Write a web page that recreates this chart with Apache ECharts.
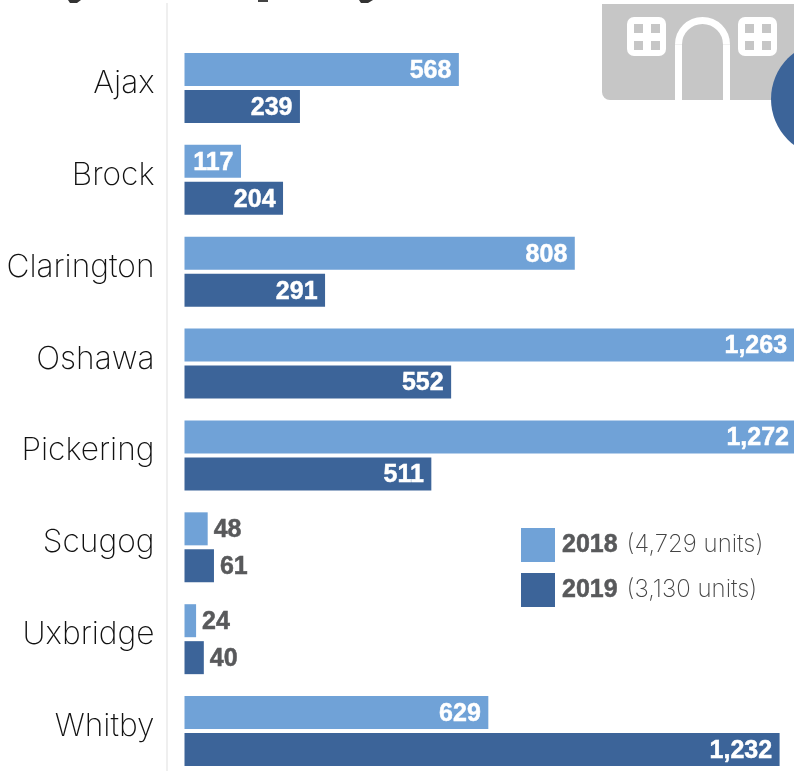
<!DOCTYPE html>
<html><head><meta charset="utf-8">
<style>html,body{margin:0;padding:0;background:#fff}#c{width:794px;height:771px}</style>
<script src="https://cdn.jsdelivr.net/npm/echarts@6/dist/echarts.min.js"></script>
</head><body><div id="c"></div>
<script>
const categories = ['Ajax','Brock','Clarington','Oshawa','Pickering','Scugog','Uxbridge','Whitby'];
const values2018 = [568,117,808,1263,1272,48,24,629];
const values2019 = [239,204,291,552,511,61,40,1232];
const seriesNames = ['2018','2019'];
const totals = {'2018':'4,729','2019':'3,130'};
const colors = ['#70a2d7','#3c6499'];

const chart = echarts.init(document.getElementById('c'), null, {renderer:'canvas'});
const fmt = p => p.value.toLocaleString('en-US');
const mkData = vals => vals.map(v => ({
  value: v,
  label: v < 100
    ? {position:'right', distance:6, color:'#58595b', textBorderColor:'#58595b'}
    : {position:'insideRight', distance:7.5, color:'#fff', textBorderColor:'#fff'}
}));
const mkSeries = (name, vals, color) => ({
  name, type:'bar', data: mkData(vals), barWidth:33, barGap:'12%',
  itemStyle:{color},
  label:{show:true, formatter:fmt, fontFamily:'Liberation Sans', fontWeight:'bold', fontSize:25, textBorderWidth:0.5, offset:[0,1.5]},
  silent:true, animation:false
});
chart.setOption({
  animation:false,
  grid:{left:184.5, top:42, width:612, height:735, outerBoundsMode:'none', containLabel:false},
  xAxis:{type:'value', min:0, max:1267, show:false},
  yAxis:{type:'category', inverse:true, data:categories, offset:30,
    axisLine:{show:false}, axisTick:{show:false},
    axisLabel:{align:'right', margin:0, formatter:v => `{c|${v}}`,
      rich:{c:{fontFamily:'Inter', fontWeight:200, fontSize:31.7, color:'#111', padding:[0,0,9,0]}}}},
  legend:{
    left:521, top:528, orient:'vertical', padding:0, itemWidth:34, itemHeight:34, itemGap:11,
    icon:'rect', selectedMode:false,
    data:seriesNames,
    formatter:n => `{b|${n}}{l|(${totals[n]} units)}`,
    textStyle:{rich:{
      b:{fontFamily:'Liberation Sans',fontWeight:'bold',fontSize:25,color:'#58595b',padding:[0,9,0,2],textBorderColor:'#58595b',textBorderWidth:0.5},
      l:{fontFamily:'Inter',fontWeight:200,fontSize:24,color:'#444'}
    }}
  },
  series:[mkSeries(seriesNames[0],values2018,colors[0]), mkSeries(seriesNames[1],values2019,colors[1])],
  graphic:[
    {type:'rect',silent:true,z:0,shape:{x:166,y:3,width:2,height:768},style:{fill:'#efefef'}},
    {type:'polygon',silent:true,z:1,shape:{points:[[68,0],[81,0],[77,3],[70,3]]},style:{fill:'#333'}},
    {type:'rect',silent:true,z:1,shape:{x:258,y:0,width:10,height:2},style:{fill:'#444'}},
    {type:'polygon',silent:true,z:1,shape:{points:[[359,0],[373,0],[368,3],[361,3]]},style:{fill:'#333'}},
    {type:'rect',silent:true,z:1,shape:{x:602,y:4,width:230,height:96,r:[0,0,0,8]},style:{fill:'#c6c6c6'}},
    {type:'rect',silent:true,z:2,shape:{x:627,y:17,width:39,height:39,r:7},style:{fill:'#fff'}},
    {type:'rect',silent:true,z:2,shape:{x:738,y:17,width:39,height:39,r:7},style:{fill:'#fff'}},
    ...[[634,24],[651,24],[634,41],[651,41],[745,24],[762,24],[745,41],[762,41]].map(([x,y])=>(
      {type:'rect',silent:true,z:3,shape:{x,y,width:9,height:9},style:{fill:'#c6c6c6'}})),
    {type:'arc',silent:true,z:3,shape:{cx:702.5,cy:44.5,r:24,startAngle:Math.PI,endAngle:2*Math.PI,clockwise:true},
      style:{fill:'none',stroke:'#fff',lineWidth:7}},
    {type:'line',silent:true,z:3,shape:{x1:678.5,y1:44.5,x2:678.5,y2:100},style:{stroke:'#fff',lineWidth:7}},
    {type:'line',silent:true,z:3,shape:{x1:726.5,y1:44.5,x2:726.5,y2:100},style:{stroke:'#fff',lineWidth:7}},
    {type:'circle',silent:true,z:4,shape:{cx:828.5,cy:99,r:57.5},style:{fill:'#3c6499'}}
  ]
});
</script></body></html>
